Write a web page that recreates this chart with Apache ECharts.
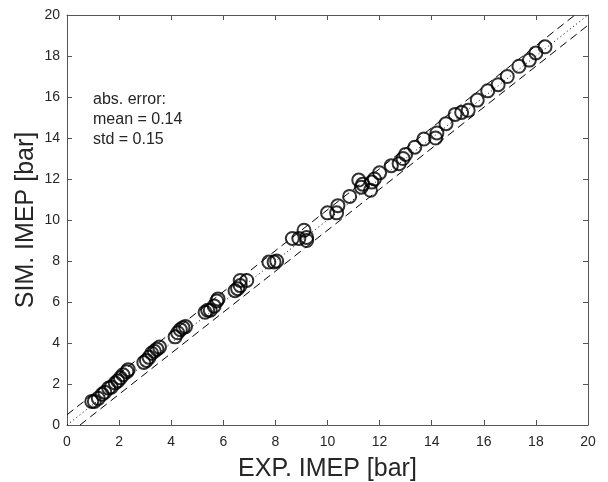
<!DOCTYPE html>
<html>
<head>
<meta charset="utf-8">
<script src="https://cdn.jsdelivr.net/npm/echarts@6/dist/echarts.min.js"></script>
<style>
  html, body { margin: 0; padding: 0; background: #fff; }
  #chart { width: 608px; height: 482px; }
</style>
</head>
<body>
<div id="chart"></div>
<script>
// Experimental vs simulated IMEP [bar]
const expImep = [
  0.95, 1.05, 1.2, 1.35, 1.45, 1.6, 1.7, 1.85, 1.95, 2.05, 2.15, 2.3, 2.35,
  2.95, 3.05, 3.15, 3.25, 3.35, 3.45, 3.55,
  4.15, 4.25, 4.35, 4.45, 4.55,
  5.3, 5.4, 5.5, 5.65, 5.75, 5.8,
  6.45, 6.55, 6.65, 6.65, 6.9,
  7.75, 7.95, 8.05,
  8.65, 8.9, 9.1, 9.2, 9.2,
  10.0, 10.35, 10.4, 10.85,
  11.2, 11.3, 11.35, 11.65, 11.7, 11.8, 12.0,
  12.45, 12.75, 12.9, 13.0, 13.35, 13.7,
  14.15, 14.2, 14.55, 14.9, 15.15, 15.4, 15.75,
  16.15, 16.55, 16.9, 17.35, 17.75, 18.0, 18.35
];
const simImep = [
  1.15, 1.15, 1.3, 1.5, 1.6, 1.8, 1.85, 2.05, 2.15, 2.3, 2.45, 2.6, 2.7,
  3.05, 3.15, 3.3, 3.5, 3.6, 3.7, 3.8,
  4.3, 4.5, 4.65, 4.75, 4.8,
  5.5, 5.6, 5.6, 5.8, 6.05, 6.15,
  6.55, 6.65, 6.8, 7.05, 7.05,
  7.95, 7.95, 8.0,
  9.1, 9.1, 9.5, 9.15, 9.0,
  10.35, 10.35, 10.7, 11.15,
  11.95, 11.6, 11.75, 11.45, 11.85, 12.0, 12.3,
  12.65, 12.75, 13.0, 13.2, 13.55, 13.95,
  14.0, 14.25, 14.7, 15.15, 15.25, 15.35, 15.85,
  16.3, 16.6, 17.0, 17.5, 17.8, 18.15, 18.45
];

// Axis range, ticks and the +/- error band drawn around the parity line
const axisMin = 0;
const axisMax = 20;
const tickStep = 2;
const bandOffset = 0.5;

// Annotation lines
const statsLines = ['abs. error:', 'mean = 0.14', 'std = 0.15'];

const points = expImep.map((x, i) => [x, simImep[i]]);
const parity = [[axisMin, axisMin], [axisMax, axisMax]];
const upperBand = [[axisMin, axisMin + bandOffset], [axisMax - bandOffset, axisMax]];
const lowerBand = [[axisMin + bandOffset, axisMin], [axisMax, axisMax - bandOffset]];

const axisColor = '#555555';
const textColor = '#262626';
const fontFamily = 'Liberation Sans, Arial, sans-serif';

function baseAxis(extra) {
  return Object.assign({
    type: 'value',
    min: axisMin,
    max: axisMax,
    interval: tickStep,
    splitLine: { show: false },
    axisLine: { show: true, onZero: false, lineStyle: { color: axisColor, width: 1 } },
    axisTick: { show: true, inside: true, length: 5, lineStyle: { color: axisColor, width: 1 } }
  }, extra);
}

const chart = echarts.init(document.getElementById('chart'), null, { renderer: 'canvas' });

chart.setOption({
  animation: false,
  backgroundColor: '#ffffff',
  grid: {
    left: 67, right: 20, top: 15, bottom: 57,
    containLabel: false,
    outerBoundsMode: 'none'
  },
  xAxis: [
    baseAxis({
      position: 'bottom',
      name: 'EXP. IMEP [bar]',
      nameLocation: 'middle',
      nameGap: 32,
      nameMoveOverlap: false,
      nameTextStyle: { fontSize: 25, color: textColor, fontFamily: fontFamily },
      axisLabel: { fontSize: 14, color: textColor, fontFamily: fontFamily, margin: 10 }
    }),
    baseAxis({ position: 'top', axisLabel: { show: false } })
  ],
  yAxis: [
    baseAxis({
      position: 'left',
      name: 'SIM. IMEP [bar]',
      nameLocation: 'middle',
      nameGap: 28,
      nameMoveOverlap: false,
      nameTextStyle: { fontSize: 25, color: textColor, fontFamily: fontFamily },
      axisLabel: { fontSize: 14, color: textColor, fontFamily: fontFamily, margin: 7 }
    }),
    baseAxis({ position: 'right', axisLabel: { show: false } })
  ],
  graphic: [{
    type: 'text',
    left: 93,
    top: 90,
    style: {
      text: statsLines.join('\n'),
      font: '16px ' + fontFamily,
      fill: textColor,
      lineHeight: 20
    }
  }],
  series: [
    {
      type: 'line',
      data: upperBand,
      symbol: 'none',
      lineStyle: { color: '#000', width: 1, type: [8, 5] },
      silent: true,
      z: 1
    },
    {
      type: 'line',
      data: lowerBand,
      symbol: 'none',
      lineStyle: { color: '#000', width: 1, type: [8, 5] },
      silent: true,
      z: 1
    },
    {
      type: 'line',
      data: parity,
      symbol: 'none',
      lineStyle: { color: '#000', width: 1, type: [1, 3] },
      silent: true,
      z: 1
    },
    {
      type: 'scatter',
      data: points,
      symbol: 'circle',
      symbolSize: 13,
      itemStyle: { color: 'rgba(0,0,0,0)', borderColor: '#000', borderWidth: 2 },
      z: 2
    }
  ]
});
</script>
</body>
</html>
